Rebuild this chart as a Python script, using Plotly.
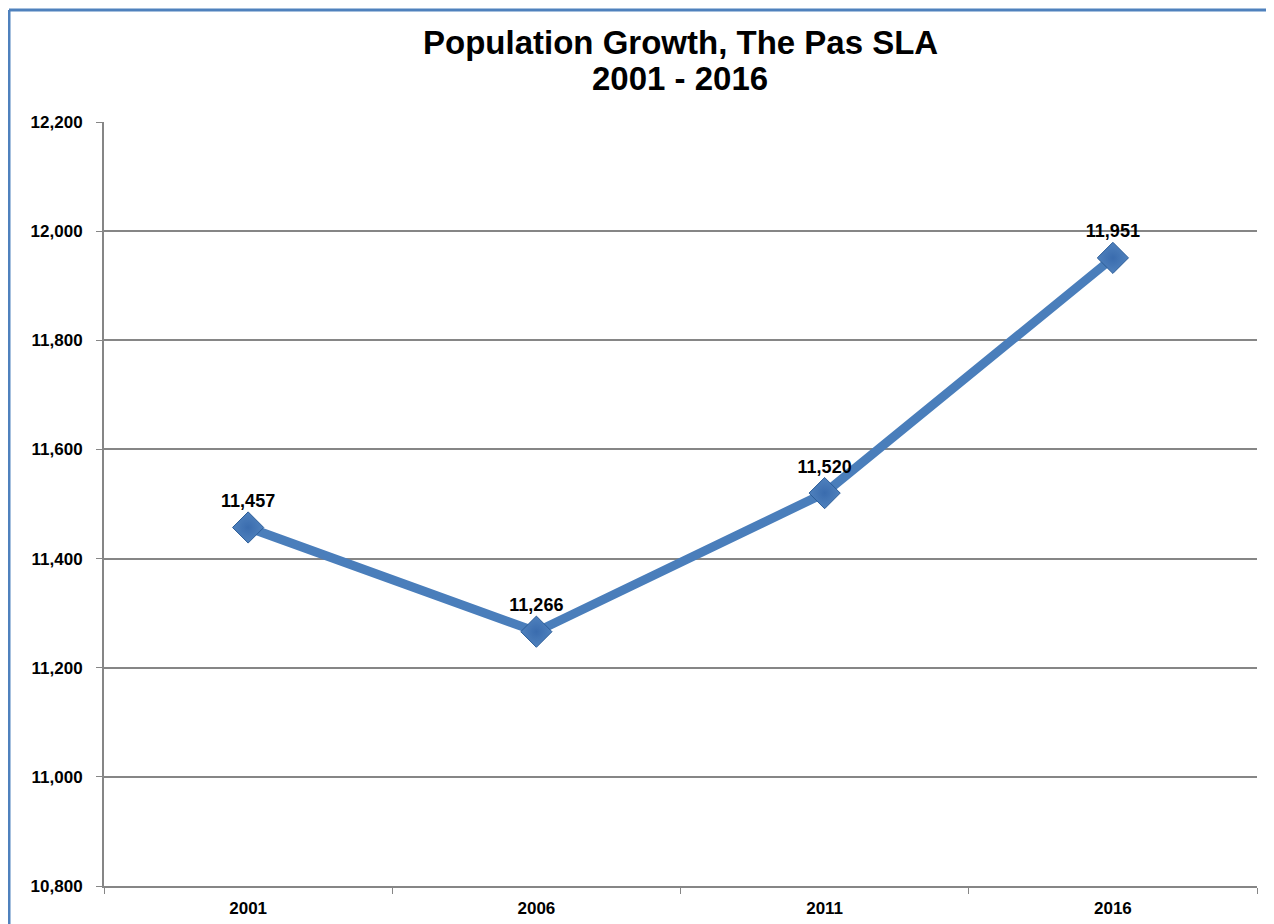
import plotly.graph_objects as go

years = ["2001", "2006", "2011", "2016"]
population = [11457, 11266, 11520, 11951]
labels = ["11,457", "11,266", "11,520", "11,951"]
title_lines = ["Population Growth, The Pas SLA", "2001 - 2016"]

FONT = "Liberation Sans, Arial, sans-serif"
OFF = 8  # page body offset

L, R, T, B = 104 - OFF, 17 + OFF, 122 - OFF, 38 + OFF

fig = go.Figure()
fig.add_trace(go.Scatter(
    x=years, y=population,
    mode="lines+markers+text",
    line=dict(color="#4a7ebb", width=9),
    marker=dict(symbol="diamond", size=24, color="#4f81bd",
                line=dict(color="#2c5d98", width=1),
                gradient=dict(type="radial", color="#3a6cae")),
    text=labels, textposition="top center",
    textfont=dict(family=FONT, size=18, color="black", weight="bold"),
    cliponaxis=False,
    hoverinfo="x+y",
))

fig.update_layout(
    width=1274, height=924,
    margin=dict(l=L, r=R, t=T, b=B),
    paper_bgcolor="white", plot_bgcolor="white",
    showlegend=False,
    xaxis=dict(
        type="category", range=[-0.5, 3.5],
        showgrid=False, showline=True, linecolor="#868686", linewidth=2,
        ticks="outside", tickson="boundaries", ticklen=6, tickcolor="#868686",
        tickfont=dict(family=FONT, size=17, color="black", weight="bold"),
        ticklabelstandoff=6,
        fixedrange=True,
    ),
    yaxis=dict(
        range=[10800, 12200], dtick=200, tickformat=",d",
        showgrid=True, gridcolor="#868686", gridwidth=1.5,
        showline=True, linecolor="#868686", linewidth=2,
        ticks="outside", ticklen=6, tickcolor="#868686",
        tickfont=dict(family=FONT, size=17, color="black", weight="bold"),
        ticklabelstandoff=10,
        zeroline=False,
    ),
)

# helpers: screen pixel -> paper coords
pw, ph = 1274 - L - R, 924 - T - B
def px(x):
    return (x - OFF - L) / pw
def py(y):
    return (924 - B - (y - OFF)) / ph

for line, ypix in zip(title_lines, [43, 79]):
    fig.add_annotation(text="<b>" + line + "</b>", xref="paper", yref="paper",
                       x=px(680), y=py(ypix), xanchor="center", yanchor="middle",
                       showarrow=False,
                       font=dict(family=FONT, size=33, color="black"))

fig.add_shape(type="line", xref="paper", yref="paper",
              x0=px(9), x1=px(9), y0=py(10), y1=py(940),
              line=dict(color="#4f81bd", width=3))
fig.add_shape(type="line", xref="paper", yref="paper",
              x0=px(9), x1=px(1290), y0=py(10), y1=py(10),
              line=dict(color="#4f81bd", width=3))

fig.write_html("out.html")
